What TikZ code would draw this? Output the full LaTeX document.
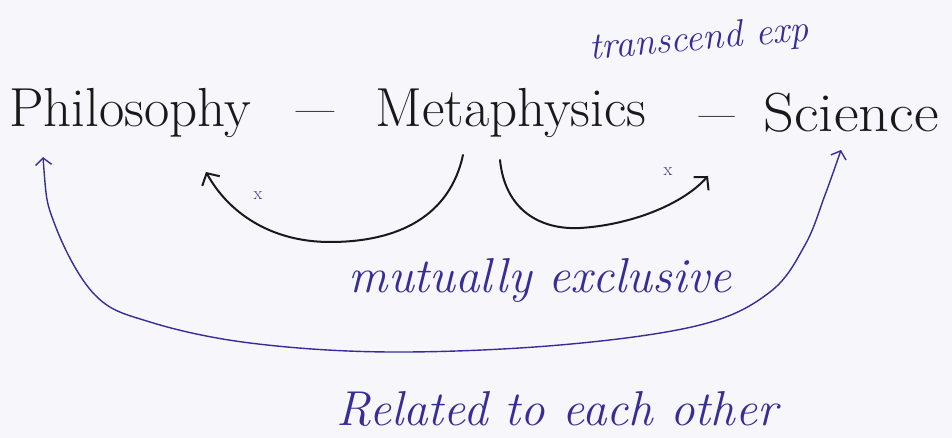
\documentclass[tikz,border=0pt]{standalone}
\usetikzlibrary{arrows.meta,calc}
\definecolor{ink}{RGB}{25,25,25}
\definecolor{blueink}{RGB}{55,45,150}
\definecolor{paper}{RGB}{246,246,251}
\begin{document}
\begin{tikzpicture}[x=1pt,y=-1pt,
  term/.style={font=\fontsize{55}{60}\selectfont, text=ink, inner sep=0pt, anchor=base},
  note/.style={font=\fontsize{49}{54}\selectfont\itshape, text=blueink, inner sep=0pt, anchor=base},
  xmark/.style={font=\fontsize{18}{20}\selectfont, text=blueink, inner sep=0pt},
  blackarrow/.style={draw=ink, line width=2pt, line cap=round,
    -{Straight Barb[length=9pt,width=20pt,line width=2pt]}},
  bluearrow/.style={draw=blueink, line width=1.4pt, line cap=round,
    {Straight Barb[length=7pt,width=16pt,line width=1.4pt]}-{Straight Barb[length=7pt,width=16pt,line width=1.4pt]}}]
\useasboundingbox (0,0) rectangle (952,438);
\fill[paper] (0,0) rectangle (952,438);

% main terms
\node[term] (phil) at (130,127) {Philosophy};
\node[term, xscale=1.5] (dash1) at (315,127) {--};
\node[term] (meta) at (511,127) {Metaphysics};
\node[term, xscale=1.4] (dash2) at (717,132) {--};
\node[term, xscale=1.1] (sci) at (851,132) {Science};

% annotations
\node[note, font=\fontsize{38}{42}\selectfont\itshape, rotate=5] (trans) at (700,50) {transcend exp};
\node[note] (mutual) at (540,292) {mutually exclusive};
\node[note] (related) at (557,425) {Related to each other};
\node[xmark] (x1) at (258,196) {x};
\node[xmark] (x2) at (668,172) {x};

% black arrows from Metaphysics
\coordinate (mA) at (463,155);
\coordinate (pA) at (206,172);
\coordinate (mB) at (500,160);
\coordinate (sB) at (708,176);
\draw[blackarrow] (mA) .. controls (450,215) and (400,242) .. (330,242)
  .. controls (270,242) and (228,212) .. (pA);
\draw[blackarrow] (mB) .. controls (505,210) and (540,230) .. (580,228)
  .. controls (630,225) and (682,205) .. (sB);

% blue arrow relating Philosophy and Science
\coordinate (pU) at (43,157);
\coordinate (sU) at (841,150);
\draw[bluearrow] plot[smooth, tension=0.6] coordinates {(pU) (55,225) (95,295) (150,322)
  (250,343) (390,352) (560,345) (700,325) (770,292) (805,245) (825,195) (sU)};
\end{tikzpicture}
\end{document}
